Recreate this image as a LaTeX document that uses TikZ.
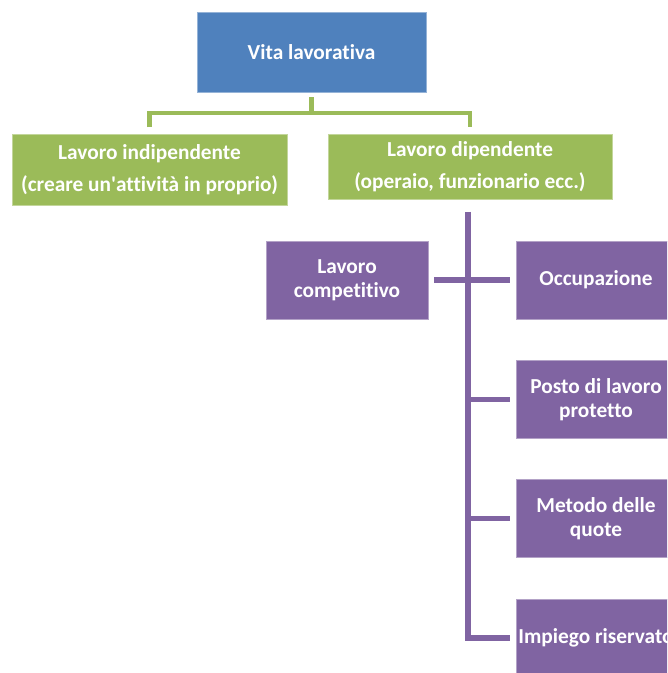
\documentclass[tikz,border=0pt]{standalone}
\usepackage{fontspec}
\setmainfont{Carlito}[Ligatures=NoCommon]
\definecolor{cblue}{HTML}{4F81BD}
\definecolor{cgreen}{HTML}{9BBB59}
\definecolor{cpurple}{HTML}{8064A2}
\begin{document}
\begin{tikzpicture}[x=0.75pt,y=-0.75pt,
  boxbase/.style={rectangle,inner sep=0pt,text=white,font=\bfseries\fontsize{16}{18}\selectfont,align=center},
  bluebox/.style={boxbase,fill=cblue,draw=cblue!60!white,line width=0.6pt},
  greenbox/.style={boxbase,fill=cgreen,draw=cgreen!60!white,line width=0.6pt,font=\bfseries\fontsize{16}{24}\selectfont},
  purplebox/.style={boxbase,fill=cpurple,draw=cpurple!60!white,line width=0.6pt},
  gline/.style={draw=cgreen,line width=3.6pt},
  pline/.style={draw=cpurple,line width=3.8pt}]
\clip (0,0) rectangle (667,673);
\fill[white] (0,0) rectangle (667,673);
\node[bluebox,minimum width=171.75pt,minimum height=60pt] (vita) at (311.5,52) {Vita lavorativa};
\node[greenbox,minimum width=206.25pt,minimum height=53.25pt] (li) at (149.5,170) {Lavoro indipendente\\(creare un\textquotesingle attività in proprio)};
\node[greenbox,minimum width=213pt,minimum height=48.75pt] (ld) at (470,167) {Lavoro dipendente\\(operaio, funzionario ecc.)};
\node[purplebox,minimum width=121.5pt,minimum height=58.5pt] (lc) at (347,280) {Lavoro\\competitivo};
\node[purplebox,minimum width=120pt,minimum height=58.5pt] (occ) at (596,280) {Occupazione};
\node[purplebox,minimum width=120pt,minimum height=58.5pt] (pl) at (596,399.5) {Posto di lavoro\\protetto};
\node[purplebox,minimum width=120pt,minimum height=58.5pt] (md) at (596,518.5) {Metodo delle\\quote};
\node[purplebox,minimum width=120pt,minimum height=58.5pt] (imp) at (596,638) {Impiego riservato};
% green connectors
\coordinate (gj) at (311.5,113);
\draw[gline] ([yshift=-3.75pt]vita.south) -- (gj);
\draw[gline] ([yshift=5.25pt]li.north) |- (gj) -| ([yshift=5.25pt]ld.north);
% purple connectors
\coordinate (ptop) at (468,212);
\draw[pline] (ptop) |- ([xshift=-4.5pt]imp.west);
\draw[pline] ([xshift=4.5pt]lc.east) -- ([xshift=-4.5pt]occ.west);
\draw[pline] (ptop |- pl.west) -- ([xshift=-4.5pt]pl.west);
\draw[pline] (ptop |- md.west) -- ([xshift=-4.5pt]md.west);
\end{tikzpicture}
\end{document}
